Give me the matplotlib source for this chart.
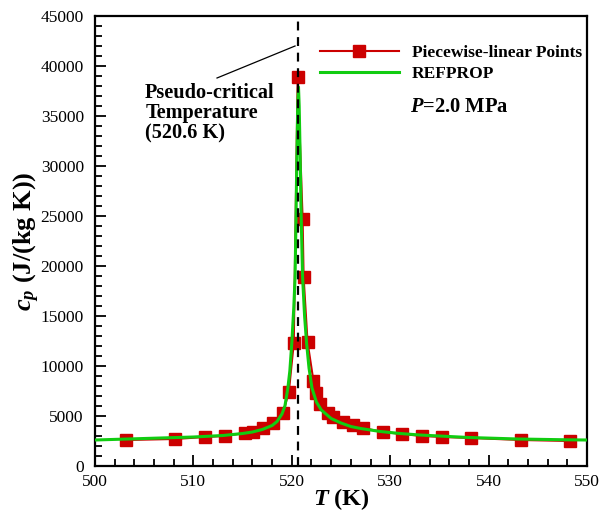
import matplotlib
matplotlib.use("Agg")
import matplotlib.pyplot as plt
from matplotlib.ticker import MultipleLocator

plt.rcParams["font.family"] = "Liberation Serif"
plt.rcParams["mathtext.fontset"] = "custom"
plt.rcParams["mathtext.it"] = "Liberation Serif:italic:bold"
plt.rcParams["mathtext.rm"] = "Liberation Serif:bold"

# piecewise-linear points
T_points = [503.2, 508.1, 511.2, 513.2, 515.2, 516.1, 517.1, 518.1, 519.1, 519.7,
            520.2, 520.6, 521.1, 521.2, 521.6, 522.2, 522.5, 522.9, 523.7, 524.2,
            525.2, 526.2, 527.2, 529.3, 531.2, 533.2, 535.3, 538.2, 543.3, 548.3]
cp_points = [2600, 2700, 2900, 3000, 3300, 3400, 3800, 4300, 5300, 7400,
             12300, 38900, 24700, 18900, 12400, 8500, 7300, 6200, 5300, 4900,
             4400, 4100, 3800, 3400, 3200, 3000, 2900, 2800, 2600, 2500]

# REFPROP curve
T_ref = [500, 505, 510, 513, 515, 516, 517, 518, 518.5, 519.0, 519.3, 519.6,
         519.8, 520.0, 520.2, 520.33, 520.4, 520.5, 520.6, 520.68, 520.75, 520.85,
         520.95, 521.1, 521.3, 521.5, 521.75, 522.05, 522.5, 523, 524, 525, 526,
         527, 529, 531, 533, 535, 538, 543, 548, 550]
cp_ref = [2600, 2750, 2900, 3050, 3250, 3400, 3650, 4050, 4450, 5200, 6000, 7800,
          9500, 12300, 15800, 18800, 23000, 30000, 36000, 37900, 36000, 31000,
          25000, 18800, 15000, 12300, 9800, 7800, 6400, 5600, 4750, 4300, 3950,
          3750, 3450, 3250, 3100, 3000, 2850, 2700, 2620, 2600]

T_pc = 520.6

red = "#cc0000"
green = "#11cc11"

fig = plt.figure(figsize=(6.04, 5.13), dpi=100)
ax = fig.add_axes([95 / 604, 47 / 513, 492 / 604, 450 / 513])

ax.plot(T_points, cp_points, "-", color=red, lw=1.5, marker="s", ms=8.5,
        mec=red, mfc=red, label="Piecewise-linear Points", zorder=2)
ax.plot(T_ref, cp_ref, "-", color=green, lw=2.2, label="REFPROP", zorder=3)
ax.axvline(T_pc, color="k", lw=1.6, ls=(0, (4, 3)), zorder=4)

ax.set_xlim(500, 550)
ax.set_ylim(0, 45000)
ax.xaxis.set_major_locator(MultipleLocator(10))
ax.xaxis.set_minor_locator(MultipleLocator(2))
ax.yaxis.set_major_locator(MultipleLocator(5000))
ax.yaxis.set_minor_locator(MultipleLocator(1000))
ax.tick_params(which="both", direction="in", width=1.3, labelsize=12.5)
ax.tick_params(axis="y", pad=8)
ax.tick_params(axis="x", pad=6)
ax.tick_params(which="major", length=8)
ax.tick_params(which="minor", length=5)
for s in ax.spines.values():
    s.set_linewidth(1.6)

ax.set_xlabel("$T$ (K)", fontsize=17.5, fontweight="bold", labelpad=-3)
ax.set_ylabel("$c_p$ (J/(kg K))", fontsize=19, fontweight="bold", labelpad=-1)

ax.text(505.1, 38300, "Pseudo-critical\nTemperature\n(520.6 K)", fontsize=14.6,
        fontweight="bold", ha="left", va="top", linespacing=1.0)
ax.plot([512.4, 520.33], [38800, 42000], "k-", lw=0.9)

ax.text(532.0, 35900, "$P$=2.0 MPa", fontsize=14.8, fontweight="bold",
        ha="left", va="center")

ax.legend(loc="upper left", bbox_to_anchor=(0.457, 0.935), frameon=False,
          prop=dict(weight="bold", size=12.5), handlelength=4.55,
          handletextpad=0.75, labelspacing=0.25, borderpad=0, borderaxespad=0)

fig.savefig("out.png", dpi=100)
